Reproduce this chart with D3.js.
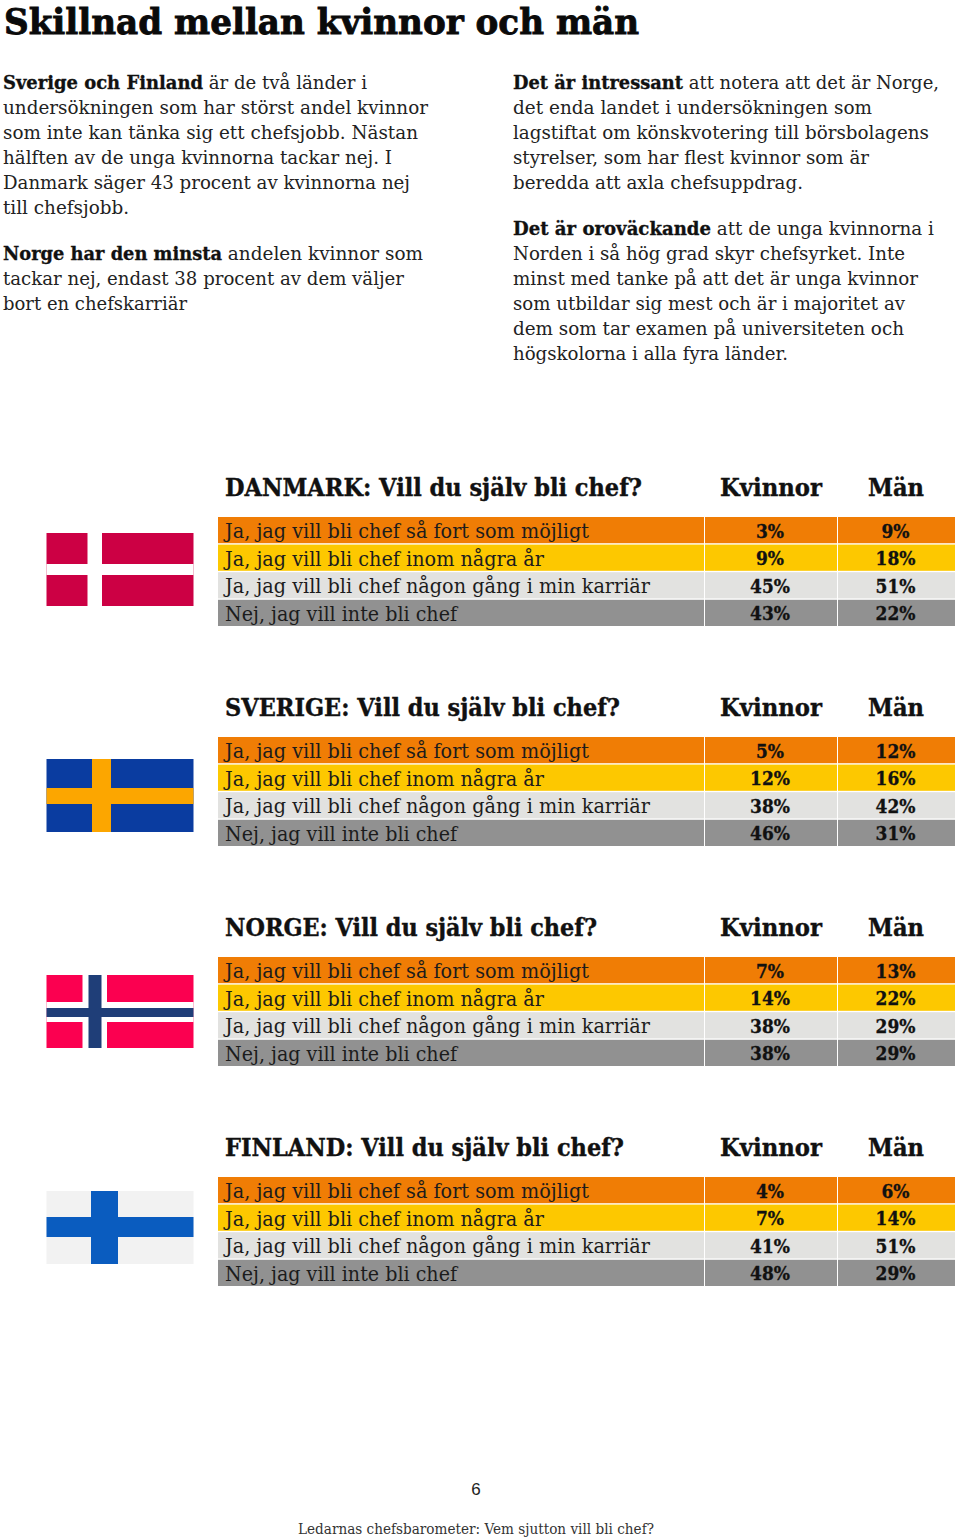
<!DOCTYPE html>
<html>
<head>
<meta charset="utf-8">
<script src="https://cdn.jsdelivr.net/npm/d3@7"></script>
<style>
  html, body { margin: 0; padding: 0; background: #fff; }
  svg { display: block; }
</style>
</head>
<body>
<svg id="chart" width="960" height="1539"></svg>
<script>
const answers = [
  'Ja, jag vill bli chef så fort som möjligt',
  'Ja, jag vill bli chef inom några år',
  'Ja, jag vill bli chef någon gång i min karriär',
  'Nej, jag vill inte bli chef'
]
const countries = ['DANMARK', 'SVERIGE', 'NORGE', 'FINLAND']
const columns = ['Kvinnor', 'Män']

const kvinnor = {
  DANMARK: [3, 9, 45, 43],
  SVERIGE: [5, 12, 38, 46],
  NORGE: [7, 14, 38, 38],
  FINLAND: [4, 7, 41, 48]
}
const man = {
  DANMARK: [9, 18, 51, 22],
  SVERIGE: [12, 16, 42, 31],
  NORGE: [13, 22, 29, 29],
  FINLAND: [6, 14, 51, 29]
}

const rowColors = ['#f07d05', '#fdc800', '#e2e2e0', '#919191']

// [bold part, regular part]
const leftText = [
  ['Sverige och Finland', ' är de två länder i'],
  ['', 'undersökningen som har störst andel kvinnor'],
  ['', 'som inte kan tänka sig ett chefsjobb. Nästan'],
  ['', 'hälften av de unga kvinnorna tackar nej. I'],
  ['', 'Danmark säger 43 procent av kvinnorna nej'],
  ['', 'till chefsjobb.'],
  null,
  ['Norge har den minsta', ' andelen kvinnor som'],
  ['', 'tackar nej, endast 38 procent av dem väljer'],
  ['', 'bort en chefskarriär']
]
const rightText = [
  ['Det är intressant', ' att notera att det är Norge,'],
  ['', 'det enda landet i undersökningen som'],
  ['', 'lagstiftat om könskvotering till börsbolagens'],
  ['', 'styrelser, som har flest kvinnor som är'],
  ['', 'beredda att axla chefsuppdrag.'],
  null,
  ['Det är oroväckande', ' att de unga kvinnorna i'],
  ['', 'Norden i så hög grad skyr chefsyrket. Inte'],
  ['', 'minst med tanke på att det är unga kvinnor'],
  ['', 'som utbildar sig mest och är i majoritet av'],
  ['', 'dem som tar examen på universiteten och'],
  ['', 'högskolorna i alla fyra länder.']
]

// where the text lines end in the picture: [end of bold, end of line]
const leftEnds = [[203, 367], [0, 428], [0, 418], [0, 392], [0, 410], [0, 129], null, [222, 423], [0, 404], [0, 187]]
const rightEnds = [[683, 939], [0, 872], [0, 929], [0, 869], [0, 803], null, [711, 934], [0, 905], [0, 918], [0, 905], [0, 904], [0, 788]]

const slab = '"DejaVu Serif", serif'
const svg = d3.select('#chart')

// squeeze a text to the width it has in the picture
function fit(sel, width) {
  sel.attr('textLength', width).attr('lengthAdjust', 'spacingAndGlyphs')
  return sel
}

fit(svg.append('text')
  .attr('x', 4).attr('y', 33.8)
  .attr('font-family', slab).attr('font-size', 36).attr('font-weight', 900)
  .attr('fill', '#0a0a0a').attr('stroke', '#0a0a0a').attr('stroke-width', 0.9)
  .text('Skillnad mellan kvinnor och män'), 635)

function bodyText(lines, ends, x0) {
  let y = 89
  lines.forEach(function(line, i) {
    if (!line) {
      y += 20.5
      return
    }
    let x = x0
    if (line[0]) {
      fit(svg.append('text')
        .attr('x', x).attr('y', y)
        .attr('font-family', slab).attr('font-size', 19).attr('font-weight', 700)
        .attr('fill', '#111').attr('stroke', '#111').attr('stroke-width', 0.35)
        .text(line[0]), ends[i][0] - x)
      x = ends[i][0]
    }
    fit(svg.append('text')
      .attr('x', x).attr('y', y)
      .attr('font-family', slab).attr('font-size', 19)
      .attr('fill', '#222')
      .style('white-space', 'pre')
      .text(line[1]), ends[i][1] - x)
    y += 25
  })
}
bodyText(leftText, leftEnds, 3)
bodyText(rightText, rightEnds, 513)

// tables
const y = d3.scalePoint().domain(countries).range([517, 1177])
const x = d3.scaleOrdinal().domain(['label', ...columns]).range([218, 705, 838])
const colWidth = d3.scaleOrdinal().domain(['label', ...columns]).range([486, 132, 117])
const row = d3.scaleBand().domain(d3.range(answers.length)).range([0, 109]).paddingInner(0.05)

const titleWidths = { DANMARK: 417, SVERIGE: 395, NORGE: 372, FINLAND: 399 }
const answerWidths = [364, 319, 425, 232]
const headWidths = { Kvinnor: 102, 'Män': 56 }

countries.forEach(function(c) {
  const g = svg.append('g').attr('transform', 'translate(0,' + y(c) + ')')

  fit(g.append('text')
    .attr('x', 225).attr('y', -21)
    .attr('font-family', slab).attr('font-size', 24).attr('font-weight', 700)
    .attr('fill', '#111').attr('stroke', '#111').attr('stroke-width', 0.4)
    .text(c + ': Vill du själv bli chef?'), titleWidths[c])

  columns.forEach(function(col) {
    fit(g.append('text')
      .attr('x', col === 'Kvinnor' ? 720 : 868).attr('y', -21)
      .attr('font-family', slab).attr('font-size', 24).attr('font-weight', 700)
      .attr('fill', '#111').attr('stroke', '#111').attr('stroke-width', 0.4)
      .text(col), headWidths[col])
  })

  answers.forEach(function(a, i) {
    ;['label', ...columns].forEach(function(col) {
      g.append('rect')
        .attr('x', x(col)).attr('y', row(i))
        .attr('width', colWidth(col)).attr('height', row.bandwidth())
        .attr('fill', rowColors[i])
    })
    fit(g.append('text')
      .attr('x', 225).attr('y', row(i) + 21)
      .attr('font-family', slab).attr('font-size', 20)
      .attr('fill', '#1c1c1c')
      .text(a), answerWidths[i])

    const vals = [kvinnor[c][i], man[c][i]]
    columns.forEach(function(col, k) {
      const t = g.append('text')
        .attr('x', x(col) + colWidth(col) / 2 - (k ? 1 : 1)).attr('y', row(i) + 20.5)
        .attr('text-anchor', 'middle')
        .attr('font-family', slab).attr('font-size', 18.5).attr('font-weight', 700)
        .attr('fill', '#111').attr('stroke', '#111').attr('stroke-width', 0.35)
        .text(vals[k] + '%')
      fit(t, t.node().getComputedTextLength() * 0.92)
    })
  })
})

// flags, in a 147 x 73 box
const flagX = d3.scaleLinear().domain([0, 147]).range([46.5, 193.5])

function flag(top, bg, bars) {
  const f = svg.append('g').attr('transform', 'translate(0,' + top + ')')
  f.append('rect').attr('x', flagX(0)).attr('y', 0).attr('width', 147).attr('height', 73).attr('fill', bg)
  bars.forEach(function(b) {
    // vertical bar from b[0] to b[1], horizontal bar from b[2] to b[3]
    f.append('rect').attr('x', flagX(b[0])).attr('y', 0).attr('width', b[1] - b[0]).attr('height', 73).attr('fill', b[4])
    f.append('rect').attr('x', flagX(0)).attr('y', b[2]).attr('width', 147).attr('height', b[3] - b[2]).attr('fill', b[4])
  })
}
flag(533, '#cc0044', [[41, 55.5, 31, 42, '#fff']])
flag(759, '#0a3ca0', [[45.5, 64.5, 29, 45, '#fca600']])
flag(975, '#fb0050', [[36, 60.5, 27, 47, '#fff'], [42, 55, 33, 42, '#1f3e78']])
flag(1191, '#f2f2f2', [[44.5, 71.5, 26, 46, '#0a5cbf']])

svg.append('text')
  .attr('x', 476).attr('y', 1495).attr('text-anchor', 'middle')
  .attr('font-family', '"Liberation Sans", sans-serif').attr('font-size', 17)
  .attr('fill', '#222')
  .text('6')

fit(svg.append('text')
  .attr('x', 298).attr('y', 1534)
  .attr('font-family', slab).attr('font-size', 14)
  .attr('fill', '#333')
  .text('Ledarnas chefsbarometer: Vem sjutton vill bli chef?'), 356)
</script>
</body>
</html>
